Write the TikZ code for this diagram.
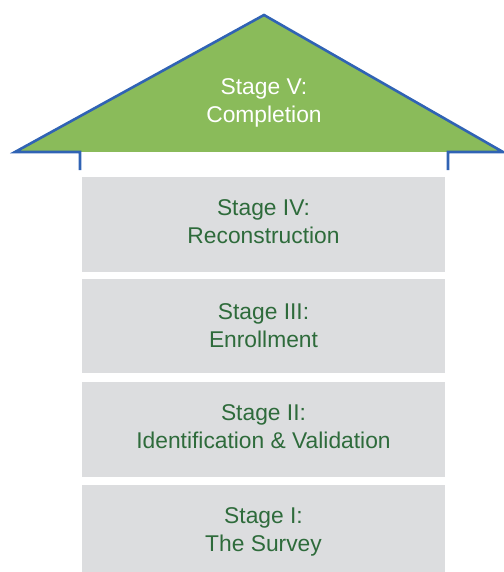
\documentclass[tikz,border=0pt]{standalone}
\usepackage{fontspec}
\setmainfont{Liberation Sans}
\definecolor{roofgreen}{HTML}{8ABB5A}
\definecolor{roofblue}{HTML}{3063B4}
\definecolor{boxgray}{HTML}{DCDDDF}
\definecolor{txtgreen}{HTML}{2E6B3B}
\tikzset{
  stagebox/.style={fill=boxgray, minimum width=363pt, inner sep=0pt},
  stagetext/.style={align=center, text=txtgreen, inner sep=0pt,
    font=\fontsize{22.8}{28}\selectfont},
  rooftext/.style={align=center, text=white, font=\fontsize{22.8}{28}\selectfont, inner sep=0pt},
  roofline/.style={draw=roofblue, line width=2.6pt}
}
\begin{document}
\begin{tikzpicture}[x=1pt,y=-1pt]
\useasboundingbox (0,0) rectangle (503,572);
\fill[roofgreen] (264,15) -- (15,152) -- (503,152) -- cycle;
\draw[roofline] (80,170) -- (80,152) -- (15,152) -- (264,15) -- (503,152) -- (448,152) -- (448,170);
\node[rooftext] (s5) at (264,103) {Stage V:\\Completion};
\node[stagebox, minimum height=95pt] (b4) at (263.5,224.5) {};
\node[stagebox, minimum height=94pt] (b3) at (263.5,326) {};
\node[stagebox, minimum height=95pt] (b2) at (263.5,429.5) {};
\node[stagebox, minimum height=87pt] (b1) at (263.5,528.5) {};
\node[stagetext] (s4) at (263.5,222) {Stage IV:\\Reconstruction};
\node[stagetext] (s3) at (263.5,325.5) {Stage III:\\Enrollment};
\node[stagetext] (s2) at (263.5,426.5) {Stage II:\\Identification \& Validation};
\node[stagetext] (s1) at (263.5,532) {Stage I:\\The Survey};
\end{tikzpicture}
\end{document}
